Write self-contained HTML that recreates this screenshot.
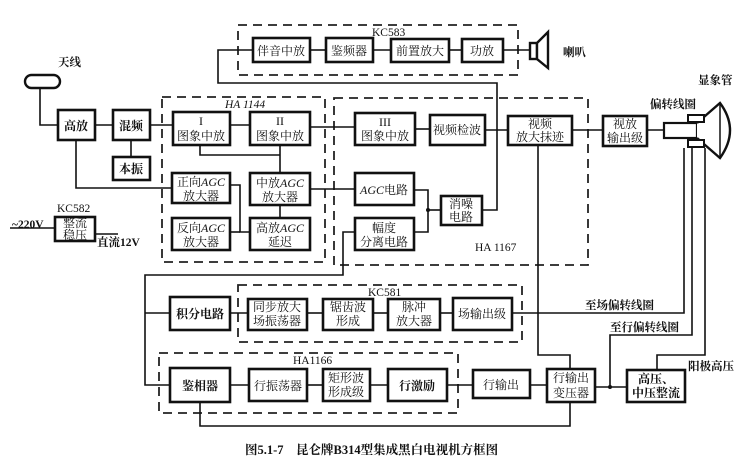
<!DOCTYPE html>
<html><head><meta charset="utf-8"><style>
html,body{margin:0;padding:0;background:#fff;}
svg{display:block;}
text{font-family:"Liberation Serif","Noto Serif CJK SC","Noto Sans CJK SC",serif;fill:#111;}
.b{fill:#fff;stroke:#111;stroke-width:2.6;}
.d{fill:none;stroke:#222;stroke-width:1.8;stroke-dasharray:9 6;}
.l{fill:none;stroke:#111;stroke-width:1.6;}
.t{font-size:12px;text-anchor:middle;}
.s{font-size:11.5px;}
</style></head><body>
<svg width="750" height="469" viewBox="0 0 750 469" xmlns="http://www.w3.org/2000/svg">
<!-- dashed groups -->
<rect class="d" x="238" y="25" width="280" height="50"/>
<rect class="d" x="162" y="97" width="163" height="165"/>
<rect class="d" x="334" y="98" width="254" height="167"/>
<rect class="d" x="238" y="285" width="284" height="57"/>
<rect class="d" x="159" y="353" width="299" height="60"/>
<text class="s" x="372" y="36">KC583</text>
<text class="s" x="225" y="108" font-style="italic">HA 1144</text>
<text class="s" x="475" y="251">HA 1167</text>
<text class="s" x="368" y="296">KC581</text>
<text class="s" x="293" y="364">HA1166</text>
<text class="s" x="57" y="212">KC582</text>

<!-- connectors -->
<g class="l">
<polyline points="253,50 218,50 218,83 497,83 497,210 482,210"/>
<line x1="310" y1="50" x2="326" y2="50"/><line x1="373" y1="50" x2="391" y2="50"/>
<line x1="449" y1="50" x2="462" y2="50"/><line x1="503" y1="50" x2="530" y2="50"/>
<polyline points="40,88 40,125 58,125"/>
<line x1="95" y1="125" x2="113" y2="125"/><line x1="150" y1="125" x2="173" y2="125"/>
<line x1="131" y1="140" x2="131" y2="157"/>
<line x1="230" y1="125" x2="250" y2="125"/><line x1="310" y1="127" x2="355" y2="127"/>
<line x1="415" y1="129" x2="430" y2="129"/><line x1="485" y1="130" x2="508" y2="130"/>
<line x1="572" y1="130" x2="603" y2="130"/><line x1="647" y1="130" x2="664" y2="130"/>
<line x1="280" y1="145" x2="280" y2="173"/><polyline points="280,155 200,155 200,145"/>
<line x1="280" y1="205" x2="280" y2="218"/>
<line x1="310" y1="189" x2="355" y2="189"/>
<polyline points="76,140 76,188 172,188"/>
<polyline points="230,185 240,185 240,232 250,232"/><line x1="230" y1="232" x2="240" y2="232"/>
<polyline points="414,190 428,190 428,232 414,232"/><line x1="428" y1="210" x2="441" y2="210"/>
<polyline points="355,232 343,232 343,275 145,275 145,385 170,385"/>
<line x1="145" y1="313" x2="170" y2="313"/>
<line x1="230" y1="313" x2="248" y2="313"/><line x1="307" y1="313" x2="323" y2="313"/>
<line x1="373" y1="313" x2="388" y2="313"/><line x1="440" y1="313" x2="453" y2="313"/>
<polyline points="512,313 684,313 684,148"/>
<line x1="230" y1="385" x2="249" y2="385"/><line x1="307" y1="385" x2="323" y2="385"/>
<line x1="370" y1="385" x2="388" y2="385"/><line x1="447" y1="385" x2="473" y2="385"/>
<line x1="530" y1="385" x2="547" y2="385"/>
<polyline points="538,145 538,355 570,355 570,369"/>
<polyline points="200,402 200,426 570,426 570,402"/>
<line x1="595" y1="387" x2="627" y2="387"/>
<polyline points="610,387 610,335 692,335 692,148"/>
<polyline points="657,370 657,355 705,355 705,148"/>
<line x1="10" y1="228" x2="55" y2="228"/>
<line x1="95" y1="234" x2="118" y2="234"/>
</g>
<circle cx="610" cy="387" r="2" fill="#111"/><circle cx="428" cy="210" r="2" fill="#111"/>

<!-- antenna -->
<rect x="25" y="75" width="35" height="13" rx="6.5" fill="#fff" stroke="#111" stroke-width="2.4"/>
<text class="s" x="58" y="66" font-weight="bold">天线</text>
<!-- speaker -->
<rect x="530" y="43" width="7" height="16" fill="#fff" stroke="#111" stroke-width="2.4"/>
<polygon points="537,43 548,32 548,68 537,59" fill="#fff" stroke="#111" stroke-width="2.4"/>
<text class="s" x="563" y="56" font-weight="bold">喇叭</text>
<!-- CRT -->
<text class="s" x="698" y="84" font-weight="bold">显象管</text>
<text class="s" x="650" y="108" font-weight="bold">偏转线圈</text>
<rect x="664" y="123" width="33" height="15" fill="#fff" stroke="#111" stroke-width="2.2"/>
<path d="M697,123 L720,103 Q740,130 720,158 L697,138" fill="#fff" stroke="#111" stroke-width="2.4"/>
<line x1="720" y1="103" x2="720" y2="158" stroke="#111" stroke-width="1.5"/>
<rect x="688" y="115" width="16" height="7" fill="#fff" stroke="#111" stroke-width="2"/>
<rect x="688" y="140" width="16" height="7" fill="#fff" stroke="#111" stroke-width="2"/>

<!-- boxes -->
<rect class="b" x="253" y="38" width="57" height="24"/><text class="t" x="281" y="55">伴音中放</text>
<rect class="b" x="326" y="38" width="47" height="24"/><text class="t" x="349" y="55">鉴频器</text>
<rect class="b" x="391" y="39" width="58" height="23"/><text class="t" x="420" y="55">前置放大</text>
<rect class="b" x="462" y="39" width="41" height="23"/><text class="t" x="482" y="55">功放</text>

<rect class="b" x="58" y="110" width="37" height="30"/><text class="t" x="76" y="130" font-weight="bold">高放</text>
<rect class="b" x="113" y="110" width="37" height="30"/><text class="t" x="131" y="130" font-weight="bold">混频</text>
<rect class="b" x="113" y="157" width="37" height="23"/><text class="t" x="131" y="173" font-weight="bold">本振</text>

<rect class="b" x="173" y="112" width="57" height="33"/><text class="t" x="201" y="125">I</text><text class="t" x="201" y="140">图象中放</text>
<rect class="b" x="250" y="112" width="60" height="33"/><text class="t" x="280" y="125">II</text><text class="t" x="280" y="140">图象中放</text>
<rect class="b" x="172" y="173" width="58" height="30"/><text class="t" x="201" y="186">正向<tspan font-style="italic">AGC</tspan></text><text class="t" x="201" y="200">放大器</text>
<rect class="b" x="250" y="173" width="60" height="32"/><text class="t" x="280" y="187">中放<tspan font-style="italic">AGC</tspan></text><text class="t" x="280" y="201">放大器</text>
<rect class="b" x="172" y="218" width="58" height="32"/><text class="t" x="201" y="232">反向<tspan font-style="italic">AGC</tspan></text><text class="t" x="201" y="246">放大器</text>
<rect class="b" x="250" y="218" width="60" height="32"/><text class="t" x="280" y="232">高放<tspan font-style="italic">AGC</tspan></text><text class="t" x="280" y="246">延迟</text>

<rect class="b" x="355" y="113" width="60" height="32"/><text class="t" x="385" y="126">III</text><text class="t" x="385" y="140">图象中放</text>
<rect class="b" x="430" y="115" width="55" height="30"/><text class="t" x="457" y="134">视频检波</text>
<rect class="b" x="355" y="173" width="59" height="32"/><text class="t" x="384" y="194"><tspan font-style="italic">AGC</tspan>电路</text>
<rect class="b" x="355" y="218" width="59" height="32"/><text class="t" x="384" y="232">幅度</text><text class="t" x="384" y="246">分离电路</text>
<rect class="b" x="441" y="196" width="41" height="29"/><text class="t" x="461" y="208">消噪</text><text class="t" x="461" y="221">电路</text>
<rect class="b" x="508" y="116" width="64" height="29"/><text class="t" x="540" y="128">视频</text><text class="t" x="540" y="141">放大抹迹</text>
<rect class="b" x="603" y="116" width="44" height="30"/><text class="t" x="625" y="128">视放</text><text class="t" x="625" y="142">输出级</text>

<rect class="b" x="55" y="217" width="40" height="24"/><text class="t" x="75" y="227" font-size="11">整流</text><text class="t" x="75" y="239" font-size="11">稳压</text>
<text class="s" x="12" y="228" font-weight="bold">~220V</text>
<text class="s" x="97" y="246" font-weight="bold">直流12V</text>

<rect class="b" x="170" y="297" width="60" height="33"/><text class="t" x="200" y="318" font-weight="bold">积分电路</text>
<rect class="b" x="248" y="299" width="59" height="31"/><text class="t" x="277" y="311">同步放大</text><text class="t" x="277" y="325">场振荡器</text>
<rect class="b" x="323" y="299" width="50" height="31"/><text class="t" x="348" y="311">锯齿波</text><text class="t" x="348" y="325">形成</text>
<rect class="b" x="388" y="299" width="52" height="31"/><text class="t" x="414" y="311">脉冲</text><text class="t" x="414" y="325">放大器</text>
<rect class="b" x="453" y="298" width="59" height="32"/><text class="t" x="482" y="318">场输出级</text>
<text class="s" x="585" y="309" font-weight="bold">至场偏转线圈</text>
<text class="s" x="610" y="331" font-weight="bold">至行偏转线圈</text>
<text class="s" x="688" y="370" font-weight="bold">阳极高压</text>

<rect class="b" x="170" y="368" width="60" height="34"/><text class="t" x="200" y="390" font-weight="bold">鉴相器</text>
<rect class="b" x="249" y="369" width="58" height="32"/><text class="t" x="278" y="390">行振荡器</text>
<rect class="b" x="323" y="369" width="47" height="32"/><text class="t" x="346" y="382">矩形波</text><text class="t" x="346" y="396">形成级</text>
<rect class="b" x="388" y="369" width="59" height="32"/><text class="t" x="417" y="390" font-weight="bold">行激励</text>
<rect class="b" x="473" y="370" width="57" height="28"/><text class="t" x="501" y="389">行输出</text>
<rect class="b" x="547" y="369" width="48" height="33"/><text class="t" x="571" y="382">行输出</text><text class="t" x="571" y="397">变压器</text>
<rect class="b" x="627" y="370" width="58" height="32"/><text class="t" x="656" y="383" font-weight="bold">高压、</text><text class="t" x="656" y="397" font-weight="bold">中压整流</text>

<text x="245" y="454" font-size="12.5" font-weight="bold">图5.1-7　昆仑牌B314型集成黑白电视机方框图</text>
</svg>
</body></html>
